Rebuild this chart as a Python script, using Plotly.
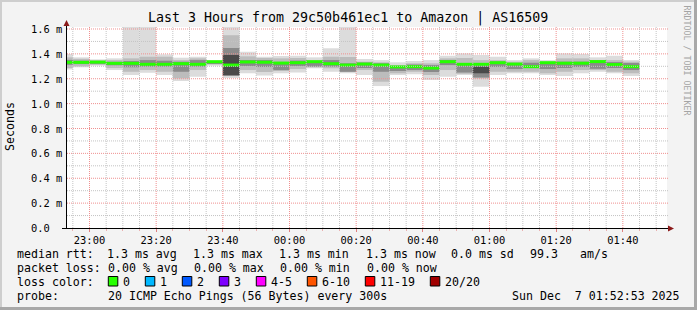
import plotly.graph_objects as go
import pandas as pd

# ---------------- data ----------------
TITLE = "Last 3 Hours from 29c50b461ec1 to Amazon | AS16509"
slot_start = pd.date_range("2025-12-06 22:50:00", "2025-12-07 01:40:00", freq="5min")

median_ms = [1.332, 1.332, 1.334, 1.324, 1.324, 1.316, 1.316, 1.321, 1.316, 1.337,
             1.310, 1.335, 1.333, 1.326, 1.329, 1.337, 1.321, 1.310, 1.318, 1.310,
             1.295, 1.297, 1.286, 1.337, 1.316, 1.316, 1.329, 1.318, 1.297, 1.329,
             1.325, 1.325, 1.338, 1.314, 1.297]
ping_min = [1.275, 1.292, 1.305, 1.270, 1.230, 1.248, 1.230, 1.182, 1.216, 1.305,
            1.206, 1.244, 1.226, 1.244, 1.250, 1.284, 1.256, 1.244, 1.230, 1.141,
            1.230, 1.236, 1.190, 1.216, 1.230, 1.136, 1.230, 1.244, 1.244, 1.230,
            1.222, 1.244, 1.256, 1.244, 1.222]
ping_max = [1.399, 1.372, 1.356, 1.364, 1.650, 1.650, 1.396, 1.369, 1.377, 1.350,
            1.650, 1.417, 1.377, 1.383, 1.385, 1.372, 1.445, 1.650, 1.359, 1.350,
            1.332, 1.342, 1.350, 1.385, 1.404, 1.391, 1.377, 1.350, 1.364, 1.350,
            1.404, 1.399, 1.372, 1.385, 1.350]
band_lo = [1.286, 1.300, 1.312, 1.286, 1.256, 1.270, 1.256, 1.203, 1.270, 1.315,
           1.222, 1.270, 1.254, 1.262, 1.278, 1.292, 1.284, 1.254, 1.270, 1.176,
           1.244, 1.256, 1.230, 1.270, 1.240, 1.203, 1.256, 1.256, 1.256, 1.244,
           1.256, 1.270, 1.270, 1.256, 1.244]
band_hi = [1.372, 1.360, 1.348, 1.350, 1.364, 1.377, 1.377, 1.350, 1.364, 1.342,
           1.550, 1.380, 1.367, 1.364, 1.367, 1.350, 1.377, 1.375, 1.337, 1.332,
           1.310, 1.324, 1.324, 1.364, 1.367, 1.350, 1.350, 1.337, 1.350, 1.337,
           1.364, 1.364, 1.350, 1.350, 1.337]
inner_lo = [1.312, 1.318, 1.320, 1.308, 1.292, 1.297, 1.297, 1.256, 1.297, 1.325,
            1.222, 1.302, 1.294, 1.270, 1.302, 1.297, 1.297, 1.256, 1.286, 1.256,
            1.262, 1.270, 1.254, 1.310, 1.250, 1.210, 1.294, 1.278, 1.286, 1.278,
            1.286, 1.294, 1.280, 1.286, 1.270]
inner_hi = [1.352, 1.345, 1.342, 1.336, 1.342, 1.350, 1.345, 1.337, 1.350, 1.340,
            1.447, 1.350, 1.350, 1.334, 1.346, 1.329, 1.350, 1.324, 1.330, 1.324,
            1.302, 1.314, 1.310, 1.350, 1.324, 1.310, 1.338, 1.326, 1.329, 1.326,
            1.337, 1.337, 1.345, 1.334, 1.326]
core_lo = [None] * 10 + [1.230] + [None] * 14 + [1.244] + [None] * 9
core_hi = [None] * 10 + [1.391] + [None] * 14 + [1.297] + [None] * 9

y_tick_vals = [0.0, 0.2, 0.4, 0.6, 0.8, 1.0, 1.2, 1.4, 1.6]
y_tick_text = ["0.0", "0.2 m", "0.4 m", "0.6 m", "0.8 m", "1.0 m", "1.2 m", "1.4 m", "1.6 m"]

legend_rtt = ["median rtt:", "1.3 ms avg", "1.3 ms max", "1.3 ms min", "1.3 ms now",
              "0.0 ms sd", "99.3", "am/s"]
legend_loss = ["packet loss:", "0.00 % avg", "0.00 % max", "0.00 % min", "0.00 % now"]
loss_title = "loss color:"
loss_labels = ["0", "1", "2", "3", "4-5", "6-10", "11-19", "20/20"]
loss_colors = ["#26ff00", "#00b8ff", "#0059ff", "#7e00ff", "#ff00ff", "#ff5500", "#ff0000", "#a10000"]
probe_label = "probe:"
probe_text = "20 ICMP Echo Pings (56 Bytes) every 300s"
stamp_text = "Sun Dec  7 01:52:53 2025"
y_title = "Seconds"
side_text = "RRDTOOL / TOBI OETIKER"

# ---------------- layout helpers ----------------
W, H = 697, 310
L, R, T, B = 67, 667, 27, 228
FONT = "DejaVu Sans Mono"
X0 = pd.Timestamp("2025-12-06 22:53:15")
X1 = pd.Timestamp("2025-12-07 01:53:15")
rtt_x = [15.5, 106, 192, 278, 365, 450, 529, 578.5]
loss_x = [15.5, 106.5, 192.5, 278.5, 365.5]


def fx(px):
    return (px - L) / (R - L)


def fy(py):
    return (B - py) / (B - T)


def nb(s):
    return s.replace(" ", "\u00a0")


fig = go.Figure()


def band(lo, hi, color):
    base, h = [], []
    for a, b in zip(lo, hi):
        if a is None or b is None:
            base.append(None)
            h.append(None)
        else:
            base.append(a)
            h.append(b - a)
    fig.add_bar(x=slot_start, y=h, base=base, width=300000, offset=0,
                marker=dict(color=color, line=dict(width=0)),
                hoverinfo="skip", showlegend=False)


band(ping_min, ping_max, "#dcdcdc")
band(band_lo, band_hi, "#bcbcbc")
band(inner_lo, inner_hi, "#8a8a8a")
band(core_lo, core_hi, "#4a4a4a")
med_thick = 3 / 124.4
band([m - med_thick / 2 for m in median_ms], [m + med_thick / 2 for m in median_ms], "#26ff00")

shapes = []
# grid lines (drawn above data like rrdtool)
minor_y = [(a + b) / 2 for a, b in zip(y_tick_vals[:-1], y_tick_vals[1:])]
for v in minor_y:
    shapes.append(dict(type="line", xref="paper", yref="y", x0=0, x1=fx(668), y0=v, y1=v,
                       line=dict(color="#c4c4c4", width=1, dash="1px,1px"), layer="above"))
for v in y_tick_vals[1:]:
    shapes.append(dict(type="line", xref="paper", yref="y", x0=0, x1=fx(668), y0=v, y1=v,
                       line=dict(color="#f09090", width=1, dash="1px,1px"), layer="above"))
for t in pd.date_range("2025-12-06 22:55:00", "2025-12-07 01:50:00", freq="5min"):
    major = t.minute % 20 == 0
    shapes.append(dict(type="line", xref="x", yref="paper", x0=t, x1=t, y0=0, y1=1,
                       line=dict(color="#f09090" if major else "#c4c4c4", width=1, dash="1px,1px"),
                       layer="above"))

# axes with arrows
shapes.append(dict(type="line", xref="paper", yref="paper", x0=fx(66.5), x1=fx(66.5),
                   y0=fy(228.5), y1=fy(24), line=dict(color="black", width=1), layer="above"))
shapes.append(dict(type="line", xref="paper", yref="paper", x0=fx(62), x1=fx(669),
                   y0=fy(228.5), y1=fy(228.5), line=dict(color="black", width=1), layer="above"))
shapes.append(dict(type="path", xref="paper", yref="paper",
                   path=f"M {fx(63.5)} {fy(26)} L {fx(66.5)} {fy(20)} L {fx(69.5)} {fy(26)} Z",
                   fillcolor="#8b1a1a", line=dict(width=0), layer="above"))
shapes.append(dict(type="path", xref="paper", yref="paper",
                   path=f"M {fx(668)} {fy(225.5)} L {fx(674)} {fy(228.5)} L {fx(668)} {fy(231.5)} Z",
                   fillcolor="#8b1a1a", line=dict(width=0), layer="above"))

# frame
shapes += [
    dict(type="rect", xref="paper", yref="paper", x0=fx(0), x1=fx(697), y0=fy(0), y1=fy(2),
         fillcolor="#cecece", line=dict(width=0), layer="above"),
    dict(type="rect", xref="paper", yref="paper", x0=fx(0), x1=fx(2), y0=fy(0), y1=fy(310),
         fillcolor="#cecece", line=dict(width=0), layer="above"),
    dict(type="rect", xref="paper", yref="paper", x0=fx(694), x1=fx(697), y0=fy(0), y1=fy(310),
         fillcolor="#a8a8a8", line=dict(width=0), layer="above"),
    dict(type="rect", xref="paper", yref="paper", x0=fx(0), x1=fx(697), y0=fy(307), y1=fy(310),
         fillcolor="#a8a8a8", line=dict(width=0), layer="above"),
]

annotations = []


def text(px, py, s, size=11.6, anchor="left", color="black", angle=0):
    annotations.append(dict(xref="paper", yref="paper", x=fx(px), y=fy(py), text=nb(s),
                            showarrow=False, xanchor=anchor, yanchor="middle",
                            textangle=angle, borderpad=0,
                            font=dict(family=FONT, size=size, color=color)))


text(347.5, 18.5, TITLE, size=13.3, anchor="center")
text(10, 127, y_title, size=11.6, anchor="center", angle=-90)
text(686.5, 60, side_text, size=8.3, anchor="center", color="#a4a4a4", angle=90)

for v, s in zip(y_tick_vals, y_tick_text):
    annotations.append(dict(xref="paper", yref="y", x=fx(30), y=v, text=nb(s), showarrow=False,
                            xanchor="left", yanchor="middle", borderpad=0,
                            font=dict(family=FONT, size=10.4, color="black")))

for px, s in zip(rtt_x, legend_rtt):
    text(px, 254.3, s)
for px, s in zip(loss_x, legend_loss):
    text(px, 268.3, s)
text(15.5, 281.7, loss_title)
cx = 108.3
for lab, col in zip(loss_labels, loss_colors):
    shapes.append(dict(type="rect", xref="paper", yref="paper", x0=fx(cx), x1=fx(cx + 9.5),
                       y0=fy(276.5), y1=fy(286), fillcolor=col,
                       line=dict(color="black", width=1), layer="above"))
    text(cx + 14, 281.7, lab)
    cx = cx + 14.3 + 7 * len(lab) + 15.7
text(15.5, 296, probe_label)
text(106.5, 296, probe_text)
text(680.5, 296, stamp_text, anchor="right")

fig.update_layout(
    width=W, height=H, autosize=False,
    margin=dict(l=L, r=W - R, t=T, b=H - B, pad=0),
    paper_bgcolor="#f3f3f3", plot_bgcolor="white",
    barmode="overlay", showlegend=False,
    shapes=shapes, annotations=annotations,
    xaxis=dict(type="date", range=[X0, X1], tickformat="%H:%M", dtick=1200000,
               tick0="2025-12-06 23:00:00", showgrid=False, zeroline=False, showline=False,
               ticks="outside", ticklen=3, tickcolor="#e08080",
               minor=dict(dtick=300000, ticks="outside", ticklen=2, tickcolor="#eab0b0", showgrid=False),
               tickfont=dict(family=FONT, size=10.4, color="black"), fixedrange=True),
    yaxis=dict(range=[0, 1.616], showgrid=False, zeroline=False, showline=False,
               showticklabels=False, ticks="", fixedrange=True),
)

fig.write_html("out.html", config={"displayModeBar": False})
